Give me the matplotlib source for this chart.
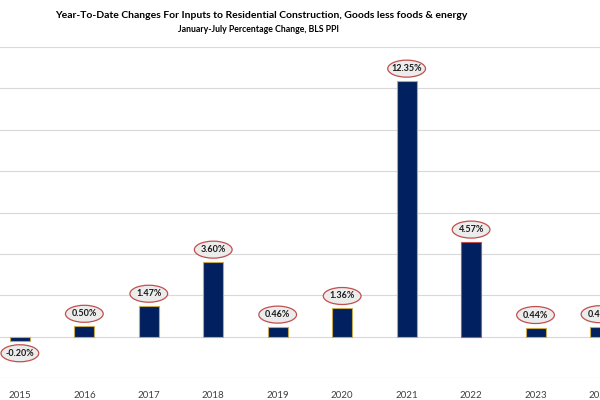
import matplotlib
matplotlib.use("Agg")
import matplotlib.pyplot as plt
from matplotlib.patches import Ellipse

years = ["2015", "2016", "2017", "2018", "2019", "2020", "2021", "2022", "2023", "2024"]
changes = [-0.20, 0.50, 1.47, 3.60, 0.46, 1.36, 12.35, 4.57, 0.44, 0.48]
labels = ["-0.20%", "0.50%", "1.47%", "3.60%", "0.46%", "1.36%", "12.35%", "4.57%", "0.44%", "0.48%"]

plt.rcParams['font.family'] = ['Lato', 'DejaVu Sans']

fig = plt.figure(figsize=(6, 4), dpi=100)
# chart is cropped on both sides, so the axes run edge to edge
ax = fig.add_axes([0, 1 - 378 / 400, 1, (378 - 47) / 400])

x = list(range(len(years)))
edges = ['#c9a94e'] * len(years)
edges[7] = '#c0504d'
ax.bar(x, changes, width=0.31, color='#002060', edgecolor=edges, linewidth=0.8, zorder=3)

# ellipse callouts with the values
px_x = 64.9
px_y = 20.7
for xi, v, lab in zip(x, changes, labels):
    off = 12.5 / px_y
    yc = v + off if v >= 0 else v - off
    ax.add_patch(Ellipse((xi, yc), 38 / px_x, 17 / px_y, facecolor='#ececec',
                         edgecolor='#c0504d', linewidth=0.9, clip_on=False, zorder=4))
    ax.text(xi, yc, lab, ha='center', va='center', fontsize=6.5, fontweight='bold',
            color='#1a1a1a', zorder=5, clip_on=False)

ax.set_xlim(-20 / px_x, (600 - 20) / px_x)
ax.set_ylim(-2, 14)
ax.set_yticks(range(-2, 15, 2))
ax.yaxis.grid(True, color='#d9d9d9', linewidth=0.8, zorder=0)
ax.set_yticklabels([])
ax.tick_params(axis='y', length=0)
ax.set_xticks(x)
ax.set_xticklabels(years, fontsize=7, color='#404040')
ax.tick_params(axis='x', length=0, pad=9)
for s in ax.spines.values():
    s.set_visible(False)

fig.text(261 / 600, 1 - 15 / 400, "Year-To-Date Changes For Inputs to Residential Construction, Goods less foods & energy",
         ha='center', va='center', fontsize=7.5, fontweight='bold', color='black')
fig.text(258 / 600, 1 - 30 / 400, "January-July Percentage Change, BLS PPI",
         ha='center', va='center', fontsize=6.3, fontweight='bold', color='black')

fig.savefig("out.png", dpi=100)
